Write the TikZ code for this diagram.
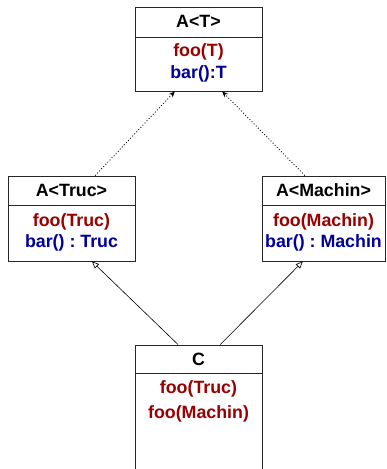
\documentclass[tikz,border=0pt]{standalone}
\usepackage{fontspec}
\setmainfont{Liberation Sans}
\usetikzlibrary{arrows.meta,calc}
\definecolor{opred}{HTML}{990000}
\definecolor{opblue}{HTML}{000099}
\frenchspacing
\tikzset{
  classbox/.style={draw=black!85, line width=0.9pt, rectangle, inner sep=0pt, fill=white},
  sep/.style={draw=black!85, line width=0.9pt},
  lbl/.style={font=\fontsize{17.8}{21}\selectfont\bfseries, inner sep=0pt},
  opr/.style={lbl, text=opred},
  opb/.style={lbl, text=opblue},
  bind/.style={draw, line width=0.9pt, dash pattern=on 0.9pt off 2.1pt, -{Stealth[length=6pt,width=5pt]}},
  inherit/.style={draw, line width=0.6pt, -{Triangle[open,length=7pt,width=6pt]}}
}
\begin{document}
\begin{tikzpicture}[x=1pt,y=-1pt]
\useasboundingbox[fill=white] (0,0) rectangle (387,469);

% template class A<T>
\node[classbox, minimum width=127pt, minimum height=84pt] (top) at (198.5,49) {};
\draw[sep] (135,37) -- (262,37);
\node[lbl] (topname) at (198.5,21.5) {A<T>};
\node[opr] (topfoo) at (198.5,52) {foo(T)};
\node[opb] (topbar) at (198.5,74) {bar():T};

% A<Truc>
\node[classbox, minimum width=127pt, minimum height=85pt] (left) at (71.5,218.5) {};
\draw[sep] (8,205) -- (135,205);
\node[lbl] (leftname) at (71.5,190.5) {A<Truc>};
\node[opr] (leftfoo) at (71.5,222) {foo(Truc)};
\node[opb] (leftbar) at (71.5,243) {bar() : Truc};

% A<Machin>
\node[classbox, minimum width=123pt, minimum height=85pt] (right) at (323.5,218.5) {};
\draw[sep] (262,205) -- (385,205);
\node[lbl] (rightname) at (323.5,190.5) {A<Machin>};
\node[opr] (rightfoo) at (323.5,222) {foo(Machin)};
\node[opb] (rightbar) at (323.5,243) {bar() : Machin};

% C
\node[classbox, minimum width=127pt, minimum height=130pt] (cbox) at (198.5,410) {};
\draw[sep] (135,373) -- (262,373);
\node[lbl] (cname) at (198.5,359.5) {C};
\node[opr] (cfoo1) at (198.5,389) {foo(Truc)};
\node[opr] (cfoo2) at (198.5,414) {foo(Machin)};

% template bindings
\path[bind] ($(left.north west)!0.685!(left.north east)$) -- ($(top.south west)!0.315!(top.south east)$);
\path[bind] ($(right.north west)!0.35!(right.north east)$) -- ($(top.south west)!0.685!(top.south east)$);

% inheritance
\path[inherit] ($(cbox.north west)!0.34!(cbox.north east)$) -- ($(left.south west)!0.66!(left.south east)$);
\path[inherit] ($(cbox.north west)!0.67!(cbox.north east)$) -- ($(right.south west)!0.333!(right.south east)$);
\end{tikzpicture}
\end{document}
